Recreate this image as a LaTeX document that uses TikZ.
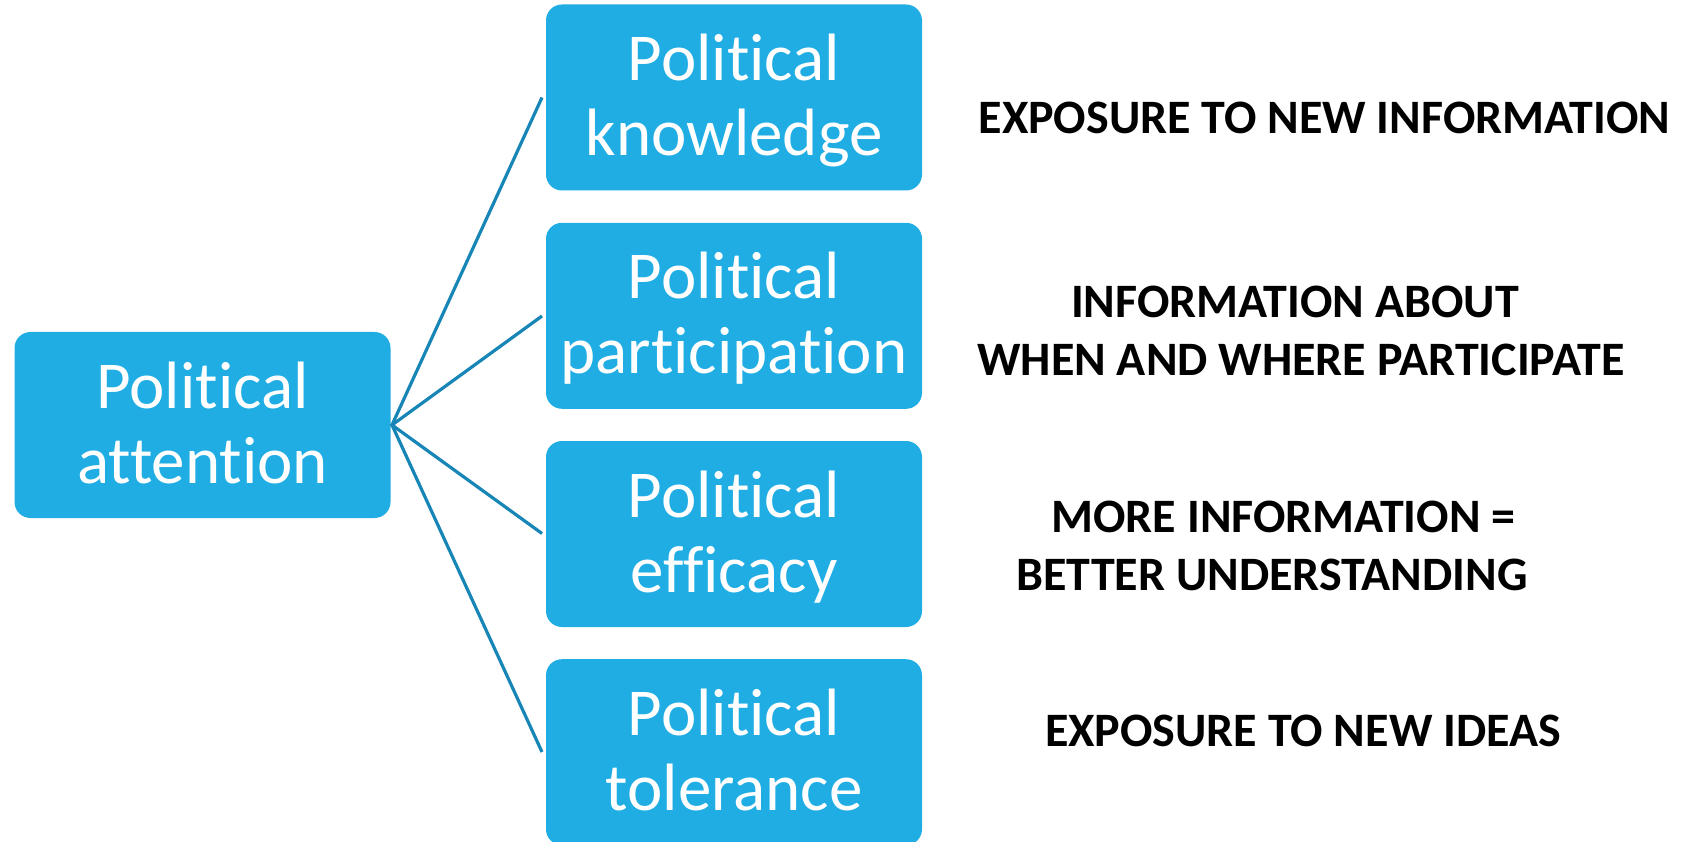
\documentclass[tikz,border=0pt]{standalone}
\usepackage{fontspec}
\setmainfont{Carlito}[Ligatures=NoCommon]
\definecolor{boxblue}{HTML}{1FADE4}
\definecolor{lineblue}{HTML}{1786B7}
\begin{document}
\begin{tikzpicture}[x=1pt,y=-1pt,
  bluebox/.style={fill=boxblue, draw=none, rounded corners=16pt, minimum width=376pt,
    minimum height=186pt, inner sep=0pt, text=white, align=center,
    font=\fontsize{67}{75}\selectfont, text height=128pt, text depth=12pt},
  conn/.style={draw=lineblue, line width=3.2pt},
  note/.style={anchor=base, inner sep=0pt, font=\fontsize{48}{57}\bfseries\selectfont, text=black}]
\useasboundingbox (0,0) rectangle (1698,842);
\node[bluebox] (att) at (202.5,425) {Political\\attention};
\node[bluebox] (kno) at (734,97.5) {Political\\knowledge};
\node[bluebox] (par) at (734,315.8) {Political\\participation};
\node[bluebox] (eff) at (734,534) {Political\\efficacy};
\node[bluebox] (tol) at (734,752.2) {Political\\tolerance};
\coordinate (o) at (392,425);
\coordinate (e1) at (542,97.5);
\coordinate (e2) at (542,316);
\coordinate (e3) at (542,533.5);
\coordinate (e4) at (542,752);
\draw[conn] (e1) -- (o) -- (e4);
\draw[conn] (e2) -- (o) -- (e3);
\node[note] (t1) at (1324.5,134) {EXPOSURE TO NEW INFORMATION};
\node[note] (t2a) at (1295,318) {INFORMATION ABOUT};
\node[note] (t2b) at (1301,375) {WHEN AND WHERE PARTICIPATE};
\node[note] (t3a) at (1283.5,532.5) {MORE INFORMATION =};
\node[note] (t3b) at (1272,590) {BETTER UNDERSTANDING};
\node[note] (t4) at (1303,746.5) {EXPOSURE TO NEW IDEAS};
\end{tikzpicture}
\end{document}
